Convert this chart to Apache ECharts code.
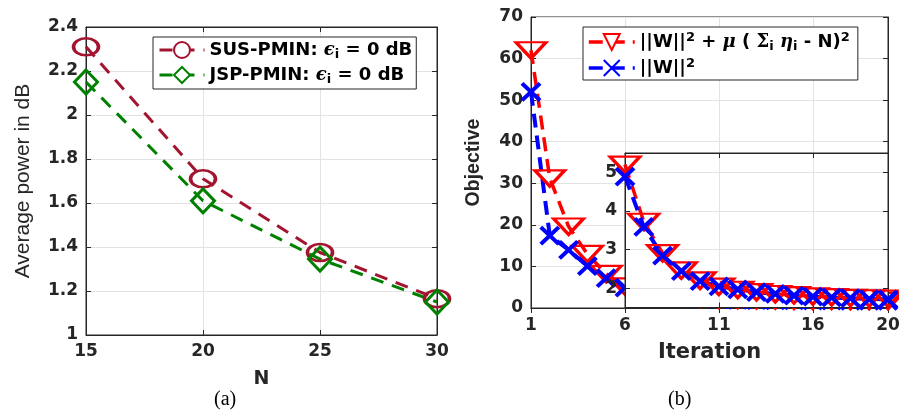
<!DOCTYPE html>
<html>
<head>
<meta charset="utf-8">
<script src="https://cdn.jsdelivr.net/npm/echarts@6/dist/echarts.min.js"></script>
<style>
html,body{margin:0;padding:0;background:#fff;}
#c{width:899px;height:411px;}
</style>
</head>
<body>
<div id="c"></div>
<script>
// ---------- data ----------
const N_VALUES = [15, 20, 25, 30];
const SUS_PMIN = [2.31, 1.71, 1.375, 1.165];
const JSP_PMIN = [2.15, 1.61, 1.345, 1.15];

const ITERATIONS = ['1','2','3','4','5','6','7','8','9','10','11','12','13','14','15','16','17','18','19','20'];
const OBJ_PENALIZED = [62, 31.2, 19.6, 13, 8.2, 5.2, 3.72, 2.91, 2.46, 2.2, 2.04, 1.96, 1.9, 1.85, 1.82, 1.79, 1.77, 1.75, 1.74, 1.73];
const OBJ_NORM      = [52, 17.4, 14, 10.1, 7.2, 4.89, 3.59, 2.84, 2.44, 2.18, 2.05, 1.97, 1.9, 1.85, 1.81, 1.78, 1.76, 1.74, 1.72, 1.71];

const ITER_TICK_LABELS = ['1', '6', '11', '16', '20'];
const INSET_FIRST_ITER = '6';
const INSET_TICK_LABELS = ['6', '11', '16'];
const INSET_Y_TICKS = [2, 3, 4, 5];

const NAME_SUS = 'SUS-PMIN';
const NAME_JSP = 'JSP-PMIN';
const NAME_PEN = '||W||^2 + μ ( Σ_i η_i - N)^2';
const NAME_NORM = '||W||^2';

// ---------- styles ----------
const AX = '#262626';
const GRIDC = '#e3e3e3';
const C_SUS = '#A2142F', C_JSP = '#008000', C_RED = '#FF0000', C_BLUE = '#0000FF';
const TICKFONT = {fontFamily: 'DejaVu Sans', fontWeight: 'bold', fontSize: 17, color: AX};
const XPATH = 'path://M0,0L10,10M10,0L0,10';

const insetStart = ITERATIONS.indexOf(INSET_FIRST_ITER);
const INSET_ITERS = ITERATIONS.slice(insetStart);
const INSET_PEN = OBJ_PENALIZED.slice(insetStart);
const INSET_NORM = OBJ_NORM.slice(insetStart);

function showAt(list, cats) { return (idx) => list.indexOf(cats[idx]) >= 0; }

const LF = 18;
const richLegend = {
  t: {fontFamily: 'DejaVu Sans', fontWeight: 'bold', fontSize: LF, color: '#000', lineHeight: 22},
  g: {fontFamily: 'DejaVu Serif', fontStyle: 'italic', fontWeight: 'bold', fontSize: LF, color: '#000', lineHeight: 22},
  G: {fontFamily: 'DejaVu Serif', fontWeight: 'bold', fontSize: LF, color: '#000', lineHeight: 22},
  sub: {fontFamily: 'DejaVu Sans', fontWeight: 'bold', fontSize: 13, color: '#000', lineHeight: 12, verticalAlign: 'bottom'},
  sup: {fontFamily: 'DejaVu Sans', fontWeight: 'bold', fontSize: 13, color: '#000', lineHeight: 12, verticalAlign: 'top'}
};
const legendFmt = {};
legendFmt[NAME_SUS] = '{t|SUS-PMIN: }{g|ϵ}{sub|i}{t| = 0 dB}';
legendFmt[NAME_JSP] = '{t|JSP-PMIN: }{g|ϵ}{sub|i}{t| = 0 dB}';
legendFmt[NAME_PEN] = '{t|||W||}{sup|2}{t| + }{g|μ}{t| ( }{G|Σ}{sub|i}{t| }{g|η}{sub|i}{t| - N)}{sup|2}';
legendFmt[NAME_NORM] = '{t|||W||}{sup|2}';

function valAxis(o) {
  return Object.assign({
    type: 'value',
    axisLine: {show: true, lineStyle: {color: AX, width: 1}},
    axisTick: {show: true, inside: true, length: 5, lineStyle: {color: AX}},
    axisLabel: Object.assign({margin: 8}, TICKFONT),
    splitLine: {show: true, lineStyle: {color: GRIDC, width: 1}}
  }, o);
}
function tickOnly(base) {
  return Object.assign({}, base, {
    name: '', axisLabel: {show: false}, splitLine: {show: false}
  });
}

// left plot axes
const lx = valAxis({gridIndex: 0, min: 15, max: 30, interval: 5,
  name: 'N', nameLocation: 'middle', nameGap: 35,
  nameTextStyle: {fontFamily: 'DejaVu Sans', fontWeight: 'bold', fontSize: 19, color: AX}});
const ly = valAxis({gridIndex: 0, min: 1, max: 2.4, interval: 0.2,
  name: 'Average power in dB', nameLocation: 'middle', nameGap: 52,
  nameTextStyle: {fontFamily: 'Liberation Sans', fontSize: 21, color: AX}});

// right main axes
const rx = {
  type: 'category', gridIndex: 1, data: ITERATIONS, boundaryGap: false,
  axisLine: {show: true, lineStyle: {color: AX, width: 1}},
  axisTick: {show: true, inside: true, length: 5, interval: showAt(ITER_TICK_LABELS, ITERATIONS), lineStyle: {color: AX}},
  axisLabel: Object.assign({margin: 9, interval: showAt(ITER_TICK_LABELS, ITERATIONS)}, TICKFONT),
  splitLine: {show: true, interval: showAt(ITER_TICK_LABELS, ITERATIONS), lineStyle: {color: GRIDC, width: 1}},
  name: 'Iteration', nameLocation: 'middle', nameGap: 34,
  nameTextStyle: {fontFamily: 'DejaVu Sans', fontWeight: 'bold', fontSize: 21, color: AX}
};
const ry = valAxis({gridIndex: 1, min: 0, max: 70, interval: 10,
  name: 'Objective', nameLocation: 'middle', nameGap: 47,
  nameTextStyle: {fontFamily: 'Liberation Sans', fontWeight: 'bold', fontSize: 19.5, color: AX}});

// inset axes
const ix = {
  type: 'category', gridIndex: 2, data: INSET_ITERS, boundaryGap: false, z: 11,
  axisLine: {show: true, lineStyle: {color: AX, width: 1}},
  axisTick: {show: true, inside: true, length: 5, interval: showAt(INSET_TICK_LABELS, INSET_ITERS), lineStyle: {color: AX}},
  axisLabel: {show: false},
  splitLine: {show: true, interval: showAt(INSET_TICK_LABELS, INSET_ITERS), lineStyle: {color: GRIDC, width: 1}}
};
const iy = valAxis({gridIndex: 2, min: 1.5, max: 5.5, z: 11,
  axisTick: {show: true, inside: true, length: 5, customValues: INSET_Y_TICKS, lineStyle: {color: AX}},
  axisLabel: Object.assign({margin: 8, customValues: INSET_Y_TICKS}, TICKFONT),
  splitLine: {show: true, customValues: INSET_Y_TICKS, lineStyle: {color: GRIDC, width: 1}}});

const option = {
  animation: false,
  backgroundColor: '#fff',
  grid: [
    {left: 86, top: 27, width: 351, height: 308, show: true, borderColor: AX, borderWidth: 1, backgroundColor: '#fff', outerBoundsMode: 'none', containLabel: false},
    {left: 531, top: 17, width: 357, height: 291, show: true, borderColor: AX, borderWidth: 1, backgroundColor: '#fff', outerBoundsMode: 'none', containLabel: false},
    {left: 625, top: 153, width: 263, height: 154.5, show: true, borderColor: AX, borderWidth: 1, backgroundColor: '#fff', z: 10, outerBoundsMode: 'none', containLabel: false}
  ],
  xAxis: [
    lx, tickOnly(Object.assign({}, lx, {position: 'top'})),
    rx, tickOnly(Object.assign({}, rx, {position: 'top'})),
    ix, tickOnly(Object.assign({}, ix, {position: 'top'}))
  ],
  yAxis: [
    ly, tickOnly(Object.assign({}, ly, {position: 'right'})),
    ry, tickOnly(Object.assign({}, ry, {position: 'right'})),
    iy, tickOnly(Object.assign({}, iy, {position: 'right'}))
  ],
  legend: [
    {
      data: [NAME_SUS, NAME_JSP], orient: 'vertical', left: 153, top: 37,
      padding: [4, 4, 3, 5], itemGap: 5, itemWidth: 45, itemHeight: 20,
      borderColor: AX, borderWidth: 1, backgroundColor: '#fff',
      itemStyle: {color: '#fff'}, lineStyle: {width: 3},
      formatter: (n) => legendFmt[n], textStyle: {rich: richLegend}
    },
    {
      data: [NAME_PEN, NAME_NORM], orient: 'vertical', left: 583, top: 27,
      padding: [4, 8, 3, 4], itemGap: 4, itemWidth: 46, itemHeight: 20,
      borderColor: AX, borderWidth: 1, backgroundColor: '#fff',
      itemStyle: {color: '#fff'}, lineStyle: {width: 3.5},
      formatter: (n) => legendFmt[n], textStyle: {rich: richLegend}
    }
  ],
  series: [
    {
      name: NAME_SUS, type: 'line', xAxisIndex: 0, yAxisIndex: 0,
      data: N_VALUES.map((n, i) => [n, SUS_PMIN[i]]),
      symbol: 'circle', symbolSize: [25, 17], color: C_SUS,
      itemStyle: {color: 'rgba(0,0,0,0)', borderColor: C_SUS, borderWidth: 3},
      lineStyle: {color: C_SUS, width: 3, type: [13, 9]}
    },
    {
      name: NAME_JSP, type: 'line', xAxisIndex: 0, yAxisIndex: 0,
      data: N_VALUES.map((n, i) => [n, JSP_PMIN[i]]),
      symbol: 'diamond', symbolSize: [23, 24], color: C_JSP,
      itemStyle: {color: 'rgba(0,0,0,0)', borderColor: C_JSP, borderWidth: 3},
      lineStyle: {color: C_JSP, width: 3, type: [13, 9]}
    },
    {
      name: NAME_PEN, type: 'line', xAxisIndex: 2, yAxisIndex: 2, showAllSymbol: true,
      data: OBJ_PENALIZED,
      symbol: 'triangle', symbolRotate: 180, symbolSize: [30, 16], color: C_RED,
      itemStyle: {color: 'rgba(0,0,0,0)', borderColor: C_RED, borderWidth: 3},
      lineStyle: {color: C_RED, width: 3.5, type: [14, 8]}
    },
    {
      name: NAME_NORM, type: 'line', xAxisIndex: 2, yAxisIndex: 2, showAllSymbol: true,
      data: OBJ_NORM,
      symbol: XPATH, symbolSize: [18, 17], color: C_BLUE,
      itemStyle: {color: 'rgba(0,0,0,0)', borderColor: C_BLUE, borderWidth: 4},
      lineStyle: {color: C_BLUE, width: 4, type: [14, 8]}
    },
    {
      name: NAME_PEN, type: 'line', xAxisIndex: 4, yAxisIndex: 4, z: 12, showAllSymbol: true,
      data: INSET_PEN,
      symbol: 'triangle', symbolRotate: 180, symbolSize: [30, 16], color: C_RED,
      itemStyle: {color: 'rgba(0,0,0,0)', borderColor: C_RED, borderWidth: 3},
      lineStyle: {color: C_RED, width: 3.5, type: [14, 8]}
    },
    {
      name: NAME_NORM, type: 'line', xAxisIndex: 4, yAxisIndex: 4, z: 12, showAllSymbol: true,
      data: INSET_NORM,
      symbol: XPATH, symbolSize: [18, 17], color: C_BLUE,
      itemStyle: {color: 'rgba(0,0,0,0)', borderColor: C_BLUE, borderWidth: 4},
      lineStyle: {color: C_BLUE, width: 4, type: [14, 8]}
    }
  ],
  graphic: [
    {type: 'text', left: 214, top: 390, style: {text: '(a)', fontFamily: 'Liberation Serif', fontSize: 20, fill: '#000'}},
    {type: 'text', left: 668, top: 390, style: {text: '(b)', fontFamily: 'Liberation Serif', fontSize: 20, fill: '#000'}}
  ]
};

const chart = echarts.init(document.getElementById('c'), null, {renderer: 'canvas'});
chart.setOption(option);
</script>
</body>
</html>
